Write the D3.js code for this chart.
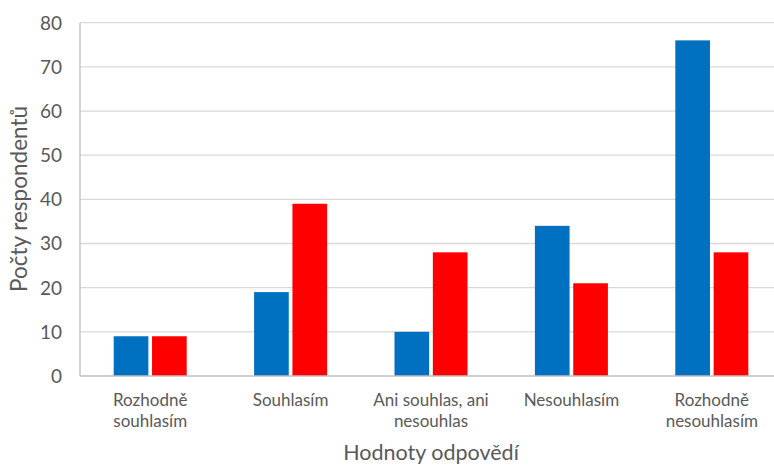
<!DOCTYPE html>
<html><head><meta charset="utf-8">
<script src="https://cdn.jsdelivr.net/npm/d3@7"></script>
<style>body{margin:0;background:#fff}svg{display:block}text{font-family:Lato,"Open Sans",sans-serif;fill:#595959}</style>
</head><body><svg id="c" width="774" height="466"></svg>
<script>
const categories = [["Rozhodně","souhlasím"],["Souhlasím"],["Ani souhlas, ani","nesouhlas"],["Nesouhlasím"],["Rozhodně","nesouhlasím"]];
const series1 = [9, 19, 10, 34, 76];
const series2 = [9, 39, 28, 21, 28];
const yTicks = [0,10,20,30,40,50,60,70,80];
const colors = ["#0070C0", "#FF0000"];

(function(){
const svg = d3.select("#c");
const pL = 80, pR = 782, pT = 22.7, pB = 376;
const x = d3.scaleBand().domain(d3.range(categories.length)).range([pL, pR]);
const y = d3.scaleLinear().domain([0, 80]).range([pB, pT]);

svg.append("g").selectAll("line").data(yTicks.filter(d=>d>0)).join("line")
  .attr("x1", pL).attr("x2", 774).attr("y1", d=>y(d)).attr("y2", d=>y(d))
  .attr("stroke", "#d9d9d9").attr("stroke-width", 1.3);

const bw = 33, gap = 7;
const xs = d3.scaleBand().domain([0,1]).range([0, 2*bw+gap]).paddingInner(gap/(2*bw+gap));
[series1, series2].forEach((s, si) => {
  svg.append("g").selectAll("rect").data(s).join("rect")
    .attr("x", (d,i)=>x(i) + x.bandwidth()/2 - (2*bw+gap)/2 + xs(si))
    .attr("width", xs.bandwidth())
    .attr("y", d=>y(d)).attr("height", d=>pB - y(d))
    .attr("fill", colors[si]);
});

svg.append("line").attr("x1", pL).attr("x2", pL).attr("y1", pT).attr("y2", pB).attr("stroke", "#bfbfbf").attr("stroke-width", 1.3);
svg.append("line").attr("x1", pL).attr("x2", 774).attr("y1", pB).attr("y2", pB).attr("stroke", "#bfbfbf").attr("stroke-width", 1.3);

svg.append("g").selectAll("text").data(yTicks).join("text")
  .attr("x", 62).attr("y", d=>y(d)).attr("dy", "0.36em").attr("text-anchor", "end")
  .attr("font-size", 19).text(d=>d);

const cl = svg.append("g").selectAll("text").data(categories).join("text")
  .attr("x", (d,i)=>x(i)+x.bandwidth()/2).attr("y", 406).attr("text-anchor", "middle").attr("font-size", 17);
cl.each(function(d){
  const t = d3.select(this);
  t.selectAll("tspan").data(d).join("tspan")
    .attr("x", t.attr("x")).attr("dy", (s,j)=> j ? 21 : 0).text(s=>s);
});

svg.append("text").attr("x", 431).attr("y", 460).attr("text-anchor", "middle").attr("font-size", 21.5).text("Hodnoty odpovědí");
svg.append("text").attr("transform", "translate(27,199) rotate(-90)").attr("text-anchor", "middle").attr("font-size", 22.5).text("Počty respondentů");
})();
</script></body></html>
